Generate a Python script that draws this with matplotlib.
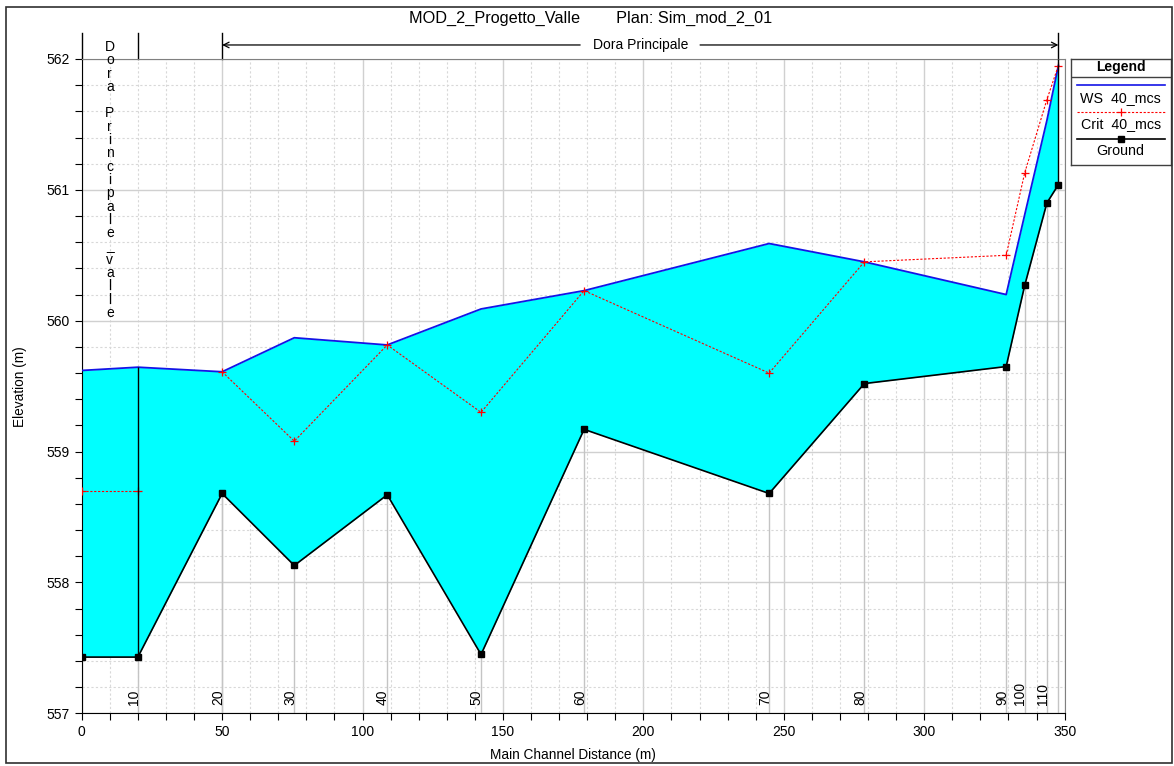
import matplotlib.pyplot as plt
import matplotlib.transforms as mtransforms
from matplotlib.patches import Rectangle
from matplotlib.ticker import MultipleLocator

plt.rcParams['font.family'] = ['Liberation Sans', 'DejaVu Sans']

# cross sections along the main channel (m) and their river station names
station = [0, 20, 50, 75.7, 108.8, 142.2, 178.9, 244.8, 278.7, 329.2, 335.8, 343.7, 347.8]
station_name = ['', '10', '20', '30', '40', '50', '60', '70', '80', '90', '100', '110', '']

# elevations (m)
ground = [557.43, 557.43, 558.68, 558.13, 558.67, 557.45, 559.17, 558.68, 559.52, 559.65, 560.27, 560.90, 561.04]
ws = [559.62, 559.645, 559.61, 559.87, 559.815, 560.09, 560.23, 560.59, 560.45, 560.20, 560.81, 561.53, 561.95]
crit = [558.70, 558.70, 559.61, 559.08, 559.815, 559.30, 560.23, 559.60, 560.45, 560.50, 561.13, 561.69, 561.95]

# reach boundaries: downstream reach ends at index 1, main reach starts at index 2
n_valle = 2

fig = plt.figure(figsize=(11.74, 7.66), dpi=100)
ax = fig.add_axes([0.0696, 0.0687, 0.8372, 0.8543])

ax.set_xlim(0, 350)
ax.set_ylim(557, 562)
ax.xaxis.set_major_locator(MultipleLocator(50))
ax.xaxis.set_minor_locator(MultipleLocator(10))
ax.yaxis.set_major_locator(MultipleLocator(1))
ax.yaxis.set_minor_locator(MultipleLocator(0.2))
ax.tick_params(which='both', direction='out', length=5, width=0.8, labelsize=10, colors='black')
ax.grid(which='major', color='#d0d0d0', lw=1.0, ls='-')
ax.grid(which='minor', color='#d8d8d8', lw=0.8, ls=(0, (2, 2)))
ax.set_axisbelow(True)
for side in ['top', 'right']:
    ax.spines[side].set_color('#808080')

# section lines below the ground
ax.vlines(station[1:], 557, ground[1:], color='#c4c4c4', lw=1.0, zorder=1.5)

ax.fill_between(station, ground, ws, color='#00ffff', lw=0, zorder=2)
ax.plot(station, ws, color='#1414e6', lw=1.3, zorder=4)
ax.plot(station[:n_valle], crit[:n_valle], color='red', lw=0.8, ls=(0, (2, 1.5)),
        marker='+', ms=6, mew=0.9, zorder=5)
ax.plot(station[n_valle:], crit[n_valle:], color='red', lw=0.8, ls=(0, (2, 1.5)),
        marker='+', ms=6, mew=0.9, zorder=5)
ax.plot(station, ground, color='black', lw=1.2, marker='s', ms=4.5, zorder=6)

# junction and reach-end markers
ax.vlines(station[1], ground[1], ws[1], color='black', lw=1.0, zorder=6)
ax.vlines(station[-1], ground[-1], 562, color='black', lw=1.0, zorder=6)

blend = mtransforms.blended_transform_factory(ax.transData, ax.transAxes)
for x in [station[0], station[1], station[2], station[-1]]:
    ax.plot([x, x], [1.0, 1.04], transform=blend, color='black', lw=1.0, clip_on=False)

# reach arrow for the main reach
ay = 1.0214
ax.annotate('', xy=(station[2], ay), xytext=(177.5, ay), xycoords=blend, textcoords=blend,
            arrowprops=dict(arrowstyle='->', lw=0.9, color='black', shrinkA=0, shrinkB=0))
ax.annotate('', xy=(station[-1], ay), xytext=(220.2, ay), xycoords=blend, textcoords=blend,
            arrowprops=dict(arrowstyle='->', lw=0.9, color='black', shrinkA=0, shrinkB=0))
ax.text((station[2] + station[-1]) / 2, ay, 'Dora Principale', transform=blend,
        ha='center', va='center', fontsize=10)

# downstream reach name, written one character per line
for i, ch in enumerate('Dora Principale_valle'):
    dy = (59 - (51 + 13.3 * i)) / 1.389
    ax.annotate(ch, xy=(10, 1.0), xycoords=blend, xytext=(0, dy), textcoords='offset points',
                ha='center', va='baseline', fontsize=10, annotation_clip=False, zorder=7)

# river station labels
for x, name in zip(station, station_name):
    if name:
        ax.annotate(name, xy=(x, 557), xytext=(2, 6), textcoords='offset points',
                    rotation=90, ha='right', va='bottom', fontsize=10)

ax.set_xlabel('Main Channel Distance (m)', fontsize=9.8)
ax.set_ylabel('Elevation (m)', fontsize=9.8)
ax.xaxis.set_label_coords(0.5, -0.053)
ax.yaxis.set_label_coords(-0.0557, 0.5)

fig.text(0.503, 0.9765, 'MOD_2_Progetto_Valle        Plan: Sim_mod_2_01',
         ha='center', va='center', fontsize=11.7)

# legend box
lax = fig.add_axes([1070.7 / 1174, (766 - 165.3) / 766, 100 / 1174, 106.3 / 766])
lax.set_xlim(0, 100)
lax.set_ylim(106.3, 0)
lax.set_xticks([])
lax.set_yticks([])
for sp in lax.spines.values():
    sp.set_color('#404040')
    sp.set_linewidth(1.0)
lax.text(50, 8.5, 'Legend', ha='center', va='center', fontsize=10, fontweight='bold')
lax.plot([0, 100], [17.7, 17.7], color='#404040', lw=1.0)
lax.plot([6, 94], [26.3, 26.3], color='#1414e6', lw=1.2)
lax.text(50, 38.7, 'WS  40_mcs', ha='center', va='center', fontsize=10.3)
lax.plot([6, 94], [52.7, 52.7], color='red', lw=0.8, ls=(0, (2, 1.5)))
lax.plot([50], [52.7], color='red', marker='+', ms=6, mew=0.9)
lax.text(50, 65, 'Crit  40_mcs', ha='center', va='center', fontsize=10.3)
lax.plot([6, 94], [80, 80], color='black', lw=1.2)
lax.plot([50], [80], color='black', marker='s', ms=4.5)
lax.text(50, 91.7, 'Ground', ha='center', va='center', fontsize=10.3)

# outer frame
fig.patches.append(Rectangle((6 / 1174, 3 / 766), 1166 / 1174, 756 / 766,
                             transform=fig.transFigure, fill=False, ec='#303030', lw=1.2))

fig.savefig('out.png', dpi=100)
